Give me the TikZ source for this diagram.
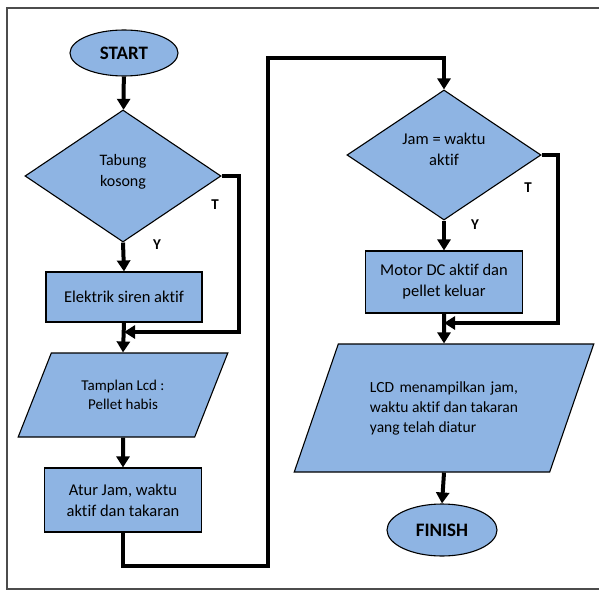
\documentclass[tikz,border=0pt]{standalone}
\usepackage{fontspec}
\setmainfont[Ligatures=NoCommon]{Carlito}
\usetikzlibrary{shapes.geometric,arrows.meta}
\definecolor{boxblue}{HTML}{8EB4E3}
\begin{document}
\begin{tikzpicture}[x=1pt,y=-1pt,
  shp/.style={draw=black,line width=1.1pt,fill=boxblue,inner sep=0pt,align=center},
  term/.style={shp,ellipse,font=\fontsize{19}{22}\selectfont\bfseries},
  proc/.style={shp,rectangle,font=\fontsize{16.5}{21}\selectfont},
  dec/.style={shp,diamond},
  io/.style={shp,trapezium,trapezium stretches=true},
  conn/.style={line width=4pt,-{Triangle[width=13pt,length=11pt]}},
  lab/.style={font=\fontsize{15}{18}\selectfont\bfseries,inner sep=0pt},
  frame/.style={draw=black!70,line width=1.6pt}]
\useasboundingbox (0,0) rectangle (599,591);
\draw[frame] (599,8) -- (7,8) -- (7,589) -- (599,589);

\node[term,minimum width=108pt,minimum height=46pt] (start) at (124,53) {START};
\node[dec,minimum width=196pt,minimum height=132pt,
  label={[font=\fontsize{16}{21}\selectfont,align=center,yshift=4pt]center:Tabung\\kosong}] (d1) at (123,176) {};
\node[proc,minimum width=156pt,minimum height=50pt] (r1) at (124,297) {Elektrik siren aktif};
\node[io,trapezium left angle=57,trapezium right angle=123,minimum width=210pt,minimum height=84pt,
  font=\fontsize{15}{19}\selectfont] (p1) at (123,395) {Tamplan Lcd :\\Pellet habis};
\node[proc,minimum width=157pt,minimum height=64pt] (r2) at (123,500) {Atur Jam, waktu\\aktif dan takaran};

\node[dec,minimum width=194pt,minimum height=130pt,
  label={[font=\fontsize{16.5}{21}\selectfont,align=center,yshift=6pt]center:Jam = waktu\\aktif}] (d2) at (444,155) {};
\node[proc,minimum width=157pt,minimum height=62pt] (r3) at (444,282) {Motor DC aktif dan\\pellet keluar};
\node[io,trapezium left angle=60,trapezium right angle=120,minimum width=300pt,minimum height=128pt,
  font=\fontsize{15.5}{20}\selectfont,align=left] (p2) at (444,408)
  {\setbox0\hbox{waktu aktif dan takaran}\makebox[\wd0][s]{LCD menampilkan jam,}\\waktu aktif dan takaran\\yang telah diatur};
\node[term,minimum width=110pt,minimum height=52pt] (finish) at (442,530) {FINISH};

\coordinate (j1) at (124,332);
\coordinate (j2) at (444,323);
\coordinate (c1) at (268,566);
\coordinate (c2) at (268,58);

\draw[conn] (start) -- (d1);
\draw[conn] (d1.south) -- (r1.north);
\draw[conn] (d1.east) -- ++(17,0) |- (j1);
\draw[conn] (r1.south) -- (p1.north);
\draw[conn] (p1.south) -- (r2.north);
\draw[conn] (r2.south) |- (c1) -- (c2) -| (d2.north);
\draw[conn] (d2.south) -- (r3.north);
\draw[conn] (d2.east) -- ++(16,0) |- (j2);
\draw[conn] (r3.south) -- (p2.north);
\draw[conn] (p2.south) -- (finish.north);

\node[lab] (t1) at (215,205) {T};
\node[lab] (y1) at (157,245) {Y};
\node[lab] (t2) at (528,188) {T};
\node[lab] (y2) at (475,225) {Y};
\end{tikzpicture}
\end{document}
